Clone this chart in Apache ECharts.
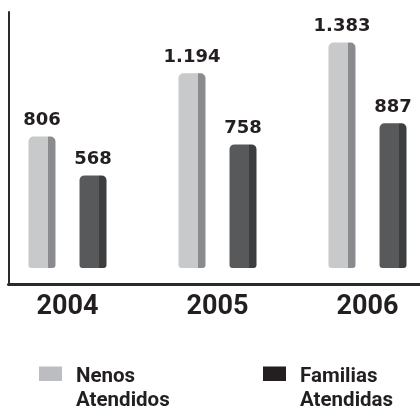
<!DOCTYPE html>
<html>
<head>
<meta charset="utf-8">
<script src="https://cdn.jsdelivr.net/npm/echarts@6/dist/echarts.min.js"></script>
<style>html,body{margin:0;padding:0;background:#fff;}#c{width:420px;height:408px;}</style>
</head>
<body>
<div id="c"></div>
<script>
const categories = ['2004', '2005', '2006'];
const nenosAtendidos = [806, 1194, 1383];
const familiasAtendidas = [568, 758, 887];
const seriesNames = ['Nenos Atendidos', 'Familias Atendidas'];

function fmt(v) {
  return String(v).replace(/\B(?=(\d{3})+(?!\d))/g, '.');
}
function sideGrad(front, side) {
  return new echarts.graphic.LinearGradient(0, 0, 1, 0, [
    { offset: 0, color: front }, { offset: 0.72, color: front },
    { offset: 0.72, color: side }, { offset: 1, color: side }
  ]);
}
const iconPath = 'path://M0,0h0.01v0.01h-0.01z M0,2H23V16.5H0z M0,47.99h0.01v0.01h-0.01z';
const legendText = {
  fontFamily: "Roboto, 'Liberation Sans', sans-serif",
  fontWeight: 'bold', fontSize: 20.5, lineHeight: 24, color: '#231f20',
  padding: [0, 0, 0, 9]
};
const barLabel = {
  show: true, position: 'top', distance: 7,
  fontFamily: "'DejaVu Sans', sans-serif", fontWeight: 'bold', fontSize: 18,
  color: '#231f20', formatter: p => fmt(p.value)
};

const chart = echarts.init(document.getElementById('c'), null, { renderer: 'canvas' });
chart.setOption({
  animation: false,
  backgroundColor: '#ffffff',
  grid: [
    { left: -7.5, right: -22.5, top: 12, bottom: 140, outerBoundsMode: 'none', containLabel: false },
    { left: 8.5, right: 0, top: 12, bottom: 123.5, outerBoundsMode: 'none', containLabel: false }
  ],
  xAxis: [
    {
      gridIndex: 0, type: 'category', data: categories,
      axisLine: { show: false }, axisTick: { show: false },
      axisLabel: {
        margin: 26, fontFamily: "Roboto, 'Open Sans', sans-serif", fontWeight: 'bold',
        fontSize: 27, color: '#231f20'
      }
    },
    {
      gridIndex: 1, type: 'category', data: [''],
      axisLine: { show: true, lineStyle: { color: '#2a2a2a', width: 3 } },
      axisTick: { show: false }, axisLabel: { show: false }
    }
  ],
  yAxis: [
    {
      gridIndex: 0, type: 'value', min: 0, max: 1570,
      axisLine: { show: false }, axisTick: { show: false },
      axisLabel: { show: false }, splitLine: { show: false }
    },
    {
      gridIndex: 1, type: 'value', min: 0, max: 1,
      axisLine: { show: true, lineStyle: { color: '#2a2a2a', width: 2 } },
      axisTick: { show: false }, axisLabel: { show: false }, splitLine: { show: false }
    }
  ],
  legend: [
    {
      left: 39, top: 364.6, padding: 0, itemWidth: 23, itemHeight: 48, icon: iconPath,
      data: [{ name: seriesNames[0], itemStyle: { color: '#bcbdc0' } }],
      formatter: n => n.replace(' ', '\n'), textStyle: legendText
    },
    {
      left: 263, top: 364.6, padding: 0, itemWidth: 23, itemHeight: 48, icon: iconPath,
      data: [{ name: seriesNames[1], itemStyle: { color: '#231f20' } }],
      formatter: n => n.replace(' ', '\n'), textStyle: legendText
    }
  ],
  series: [
    {
      name: seriesNames[0], type: 'bar', xAxisIndex: 0, yAxisIndex: 0,
      data: nenosAtendidos, barWidth: 27, barGap: '89%',
      itemStyle: { color: sideGrad('#c8c9cb', '#8a8b8e'), borderRadius: [5, 5, 3, 3] },
      label: barLabel
    },
    {
      name: seriesNames[1], type: 'bar', xAxisIndex: 0, yAxisIndex: 0,
      data: familiasAtendidas, barWidth: 27, barGap: '89%',
      itemStyle: { color: sideGrad('#58595b', '#3d3e40'), borderRadius: [5, 5, 3, 3] },
      label: barLabel
    }
  ]
});
</script>
</body>
</html>
